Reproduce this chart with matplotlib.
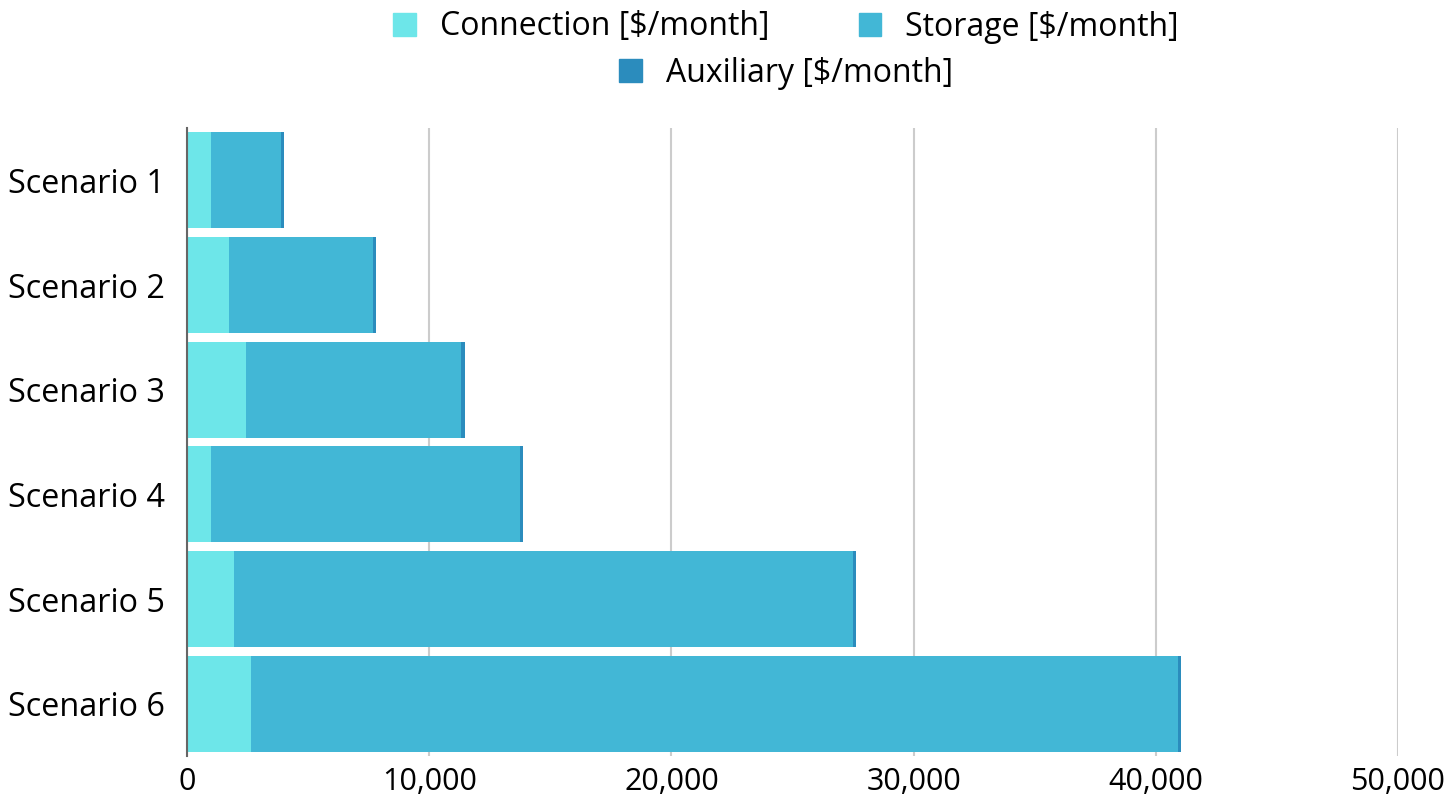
import matplotlib.pyplot as plt
from matplotlib.patches import Patch

plt.rcParams['font.family'] = ['Open Sans', 'DejaVu Sans']

scenarios = ['Scenario 1', 'Scenario 2', 'Scenario 3', 'Scenario 4', 'Scenario 5', 'Scenario 6']
connection = [1000, 1730, 2440, 1000, 1940, 2640]
storage = [2880, 5930, 8880, 12750, 25560, 38280]
auxiliary = [140, 140, 140, 140, 140, 140]
labels = ['Connection [$/month]', 'Storage [$/month]', 'Auxiliary [$/month]']
colors = ['#6de6e9', '#42b7d6', '#2b8cbd']

fig = plt.figure(figsize=(14.51, 8), dpi=100)
ax = fig.add_axes([187 / 1451, 1 - 756 / 800, (1398 - 187) / 1451, (756 - 128) / 800])

y = range(len(scenarios))
left_st = connection
left_aux = [c + s for c, s in zip(connection, storage)]
ax.barh(y, connection, height=0.92, color=colors[0], zorder=3)
ax.barh(y, storage, left=left_st, height=0.92, color=colors[1], zorder=3)
ax.barh(y, auxiliary, left=left_aux, height=0.92, color=colors[2], zorder=3)

ax.set_xlim(0, 50000)
ax.set_ylim(len(scenarios) - 0.5, -0.5)
ax.set_yticks(list(y))
ax.set_yticklabels(scenarios, fontsize=23.3)
ax.set_xticks([0, 10000, 20000, 30000, 40000, 50000])
ax.set_xticklabels(['0', '10,000', '20,000', '30,000', '40,000', '50,000'], fontsize=22)
ax.tick_params(axis='y', length=0, pad=16)
ax.tick_params(axis='x', length=0, pad=8)
ax.grid(axis='x', color='#cccccc', linewidth=1.5, zorder=0)
for s in ['top', 'right', 'bottom']:
    ax.spines[s].set_visible(False)
ax.spines['left'].set_color('#666666')
ax.spines['left'].set_linewidth(1.5)
ax.spines['left'].set_zorder(4)

h = [Patch(color=c) for c in colors]
fig.legend(h[:2], labels[:2], ncol=2, loc='center', bbox_to_anchor=(786 / 1451, 1 - 27 / 800),
           frameon=False, fontsize=23, handlelength=0.7, handleheight=0.7,
           handletextpad=0.75, columnspacing=2.8, borderpad=0)
fig.legend(h[2:], labels[2:], loc='center', bbox_to_anchor=(786 / 1451, 1 - 73 / 800),
           frameon=False, fontsize=23, handlelength=0.7, handleheight=0.7,
           handletextpad=0.75, borderpad=0)

fig.savefig('out.png', dpi=100)
